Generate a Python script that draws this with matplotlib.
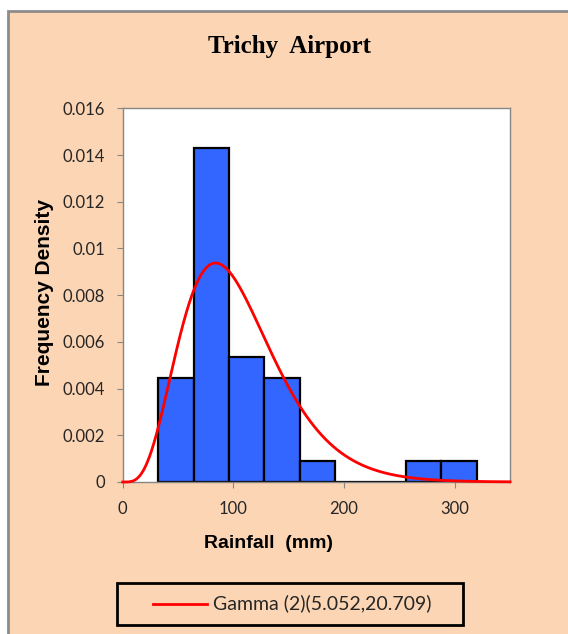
import math
import numpy as np
import matplotlib
matplotlib.use("Agg")
import matplotlib.pyplot as plt
from matplotlib.patches import Rectangle
from matplotlib.lines import Line2D

# monthly rainfall histogram (counts per 32 mm class)
bin_edges = [32, 64, 96, 128, 160, 192, 224, 256, 288, 320]
counts = [5, 16, 6, 5, 1, 0, 0, 1, 1]

# fitted gamma distribution (shape, scale)
gamma_shape = 5.052
gamma_scale = 20.709
legend_label = "Gamma (2)(5.052,20.709)"

yticks = [0, 0.002, 0.004, 0.006, 0.008, 0.01, 0.012, 0.014, 0.016]
ytick_labels = ["0", "0.002", "0.004", "0.006", "0.008", "0.01", "0.012", "0.014", "0.016"]
xticks = [0, 100, 200, 300]

W, H = 568, 634
peach = "#FCD5B4"
grey = "#868686"


def fx(px):
    return px / W


def fy(py):
    return 1 - py / H


fig = plt.figure(figsize=(W / 100, H / 100), dpi=100, facecolor="white")
panel = Rectangle((fx(7.5), -0.01), 1.1, fy(10.5) + 0.01,
                  transform=fig.transFigure, facecolor=peach,
                  edgecolor="#8C8C8C", linewidth=2, zorder=-10)
fig.patches.append(panel)

ax = fig.add_axes([fx(122.7), fy(482), fx(510 - 122.7), (482 - 108.3) / H])
ax.set_facecolor("white")

n = sum(counts)
edges = np.array(bin_edges, dtype=float)
widths = np.diff(edges)
density = np.array(counts) / (n * widths)
ax.bar(edges[:-1], density, width=widths, align="edge", color="#3366FF",
       edgecolor="black", linewidth=1.6, zorder=2)

x = np.linspace(0.01, 350, 600)
k, th = gamma_shape, gamma_scale
pdf = np.exp((k - 1) * np.log(x) - x / th - math.lgamma(k) - k * math.log(th))
ax.plot(x, pdf, color="#FF0000", linewidth=2, zorder=3, clip_on=False)

ax.set_xlim(0, 350)
ax.set_ylim(0, 0.016)
ax.set_yticks(yticks)
ax.set_yticklabels(ytick_labels)
ax.set_xticks(xticks)

for s in ax.spines.values():
    s.set_color(grey)
    s.set_linewidth(1)
ax.tick_params(axis="both", colors=grey, labelcolor="#262626", length=4.5,
               labelsize=12, direction="out")
ax.tick_params(axis="y", pad=8)
ax.tick_params(axis="x", pad=9)
for lab in ax.get_xticklabels() + ax.get_yticklabels():
    lab.set_family("Lato")

ax.set_xlabel("Rainfall  (mm)", fontsize=14, fontweight="bold",
              family="Liberation Sans")
ax.xaxis.set_label_coords(fx(269), fy(543), transform=fig.transFigure)
ax.xaxis.label.set_va("center")
ax.set_ylabel("Frequency Density", fontsize=15, fontweight="bold",
              family="Liberation Sans")
ax.yaxis.set_label_coords(fx(45), fy(292), transform=fig.transFigure)
ax.yaxis.label.set_va("center")

fig.text(fx(289.5), fy(47), "Trichy  Airport", ha="center", va="center",
         fontsize=18, fontweight="bold", family="Liberation Serif")

# legend box below the plot
box = Rectangle((fx(117), fy(625)), fx(463 - 117), (625 - 582.5) / H,
                transform=fig.transFigure, facecolor="none",
                edgecolor="black", linewidth=2)
fig.patches.append(box)
fig.add_artist(Line2D([fx(153), fx(207)], [fy(603.5), fy(603.5)],
                      transform=fig.transFigure, color="#FF0000", linewidth=2))
fig.text(fx(213), fy(603.5), legend_label, ha="left", va="center",
         fontsize=14, family="Lato", color="#262626")

fig.savefig("out.png", dpi=100, facecolor="white")
